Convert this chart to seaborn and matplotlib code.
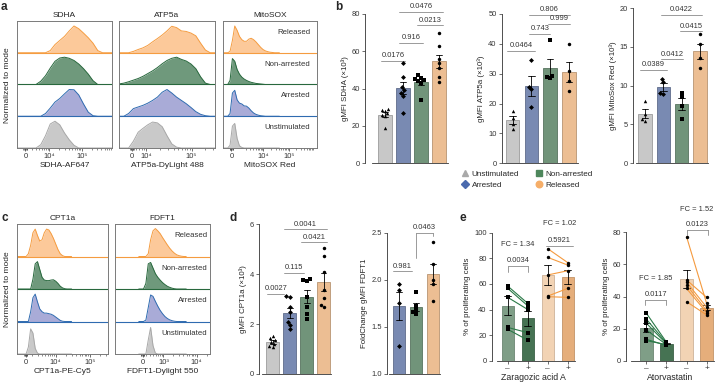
import numpy as np
import pandas as pd
import matplotlib
matplotlib.use('Agg')
import matplotlib.pyplot as plt
from matplotlib.lines import Line2D
from matplotlib import colors as mcolors
import seaborn as sns

# ---------------- data ----------------
groups = ['Unstimulated', 'Arrested', 'Non-arrested', 'Released']

# histograms (normalized to mode), x in axis fraction
grid21 = np.linspace(0, 1, 21)
sdha_hist = [
    [0, 0, 0, 0, 0, 0.12, 0.45, 0.88, 0.98, 0.85, 0.55, 0.3, 0.1, 0, 0, 0, 0, 0, 0, 0, 0],
    [0, 0, 0, 0, 0, 0, 0.1, 0.3, 0.52, 0.65, 0.82, 0.98, 0.97, 0.78, 0.45, 0.15, 0.02, 0, 0, 0, 0],
    [0, 0, 0, 0, 0, 0.12, 0.32, 0.6, 0.85, 0.97, 1.0, 0.96, 0.88, 0.75, 0.58, 0.38, 0.14, 0, 0, 0, 0],
    [0, 0, 0, 0, 0, 0, 0, 0.08, 0.3, 0.45, 0.6, 0.8, 0.98, 0.88, 0.72, 0.55, 0.35, 0.08, 0, 0, 0],
]
atp_hist = [
    [0, 0, 0, 0.25, 0.58, 0.72, 0.85, 0.95, 0.92, 0.78, 0.45, 0.15, 0.03, 0, 0, 0, 0, 0, 0, 0, 0],
    [0, 0, 0.1, 0.28, 0.34, 0.4, 0.48, 0.58, 0.7, 0.88, 0.98, 0.85, 0.7, 0.58, 0.46, 0.32, 0.17, 0.07, 0.02, 0, 0],
    [0.02, 0.05, 0.1, 0.16, 0.22, 0.3, 0.4, 0.5, 0.62, 0.76, 0.88, 0.96, 1.0, 0.92, 0.86, 0.75, 0.58, 0.28, 0.05, 0, 0],
    [0, 0, 0, 0.05, 0.12, 0.18, 0.27, 0.4, 0.52, 0.65, 0.8, 0.97, 0.92, 0.8, 0.78, 0.72, 0.62, 0.35, 0.1, 0, 0],
]
grid25 = np.linspace(0, 0.6, 25)
mito_hist = [
    [0, 0, 0, 0.1, 0.8, 0.9, 0.35, 0.08, 0.02, 0, 0, 0, 0, 0, 0, 0, 0, 0, 0, 0, 0, 0, 0, 0, 0],
    [0, 0, 0, 0.1, 0.85, 0.95, 0.6, 0.48, 0.45, 0.38, 0.37, 0.3, 0.2, 0.12, 0.07, 0.04, 0.02, 0.01, 0, 0, 0, 0, 0, 0, 0],
    [0, 0, 0, 0.15, 0.95, 0.85, 0.55, 0.38, 0.27, 0.2, 0.15, 0.11, 0.08, 0.06, 0.04, 0.03, 0.02, 0.01, 0, 0, 0, 0, 0, 0, 0],
    [0, 0, 0, 0.05, 0.45, 0.98, 0.82, 0.6, 0.48, 0.42, 0.42, 0.5, 0.53, 0.48, 0.4, 0.3, 0.2, 0.12, 0.07, 0.04, 0.02, 0.01, 0, 0, 0],
]
cpt_hist = [
    [0, 0, 0, 0, 0, 0.25, 0.9, 0.75, 0.2, 0.03, 0, 0, 0, 0, 0, 0, 0, 0, 0, 0, 0, 0, 0, 0, 0],
    [0, 0, 0, 0, 0, 0, 0.35, 0.85, 0.98, 0.7, 0.45, 0.35, 0.3, 0.3, 0.28, 0.26, 0.22, 0.16, 0.1, 0.04, 0.01, 0, 0, 0, 0],
    [0, 0, 0, 0, 0, 0, 0, 0.35, 0.9, 0.98, 0.7, 0.42, 0.32, 0.3, 0.3, 0.32, 0.33, 0.28, 0.2, 0.1, 0.04, 0.01, 0, 0, 0],
    [0, 0, 0, 0, 0, 0.1, 0.4, 0.85, 0.98, 0.75, 0.55, 0.6, 0.85, 0.98, 0.95, 0.82, 0.65, 0.45, 0.25, 0.1, 0.03, 0, 0, 0, 0],
]
grid_fdf = np.linspace(0.25, 0.75, 21)
fdf_hist = [
    [0, 0, 0, 0, 0.5, 0.95, 0.3, 0.03, 0, 0, 0, 0, 0, 0, 0, 0, 0, 0, 0, 0, 0],
    [0, 0, 0, 0.05, 0.5, 0.95, 0.9, 0.72, 0.55, 0.4, 0.28, 0.18, 0.11, 0.06, 0.03, 0.01, 0, 0, 0, 0, 0],
    [0, 0, 0, 0.2, 0.9, 0.95, 0.75, 0.55, 0.42, 0.32, 0.23, 0.16, 0.1, 0.06, 0.03, 0.01, 0, 0, 0, 0, 0],
    [0, 0, 0, 0, 0.1, 0.6, 0.92, 1.0, 0.92, 0.82, 0.68, 0.55, 0.42, 0.3, 0.2, 0.12, 0.06, 0.03, 0.01, 0, 0],
]

# gMFI per sample
sdha_vals = [[29.0, 28.6, 28.0, 26.6, 26.0, 25.2, 18.6],
             [53.8, 46.0, 40.8, 39.2, 37.8, 36.2, 27.0],
             [47.0, 45.8, 45.0, 44.4, 43.8, 43.2, 33.8],
             [70.0, 63.0, 56.0, 53.5, 50.8, 46.0, 43.4]]
atp_vals = [[17.6, 15.2, 13.2, 11.4],
            [34.6, 25.6, 24.8, 18.7],
            [41.3, 29.3, 28.8, 28.4],
            [39.8, 31.0, 27.6, 24.3]]
mito_vals = [[8.0, 6.4, 5.7, 5.5],
             [10.9, 10.5, 9.1, 8.9],
             [9.1, 8.5, 7.4, 5.7],
             [16.6, 15.4, 13.5, 12.3]]
cpt_vals = [[1.52, 1.43, 1.35, 1.3, 1.2, 1.12, 1.07],
            [3.13, 3.07, 2.67, 2.5, 2.1, 1.97, 1.8],
            [3.8, 3.77, 3.74, 3.1, 2.7, 2.4, 2.2],
            [5.04, 4.73, 4.1, 3.37, 3.03, 2.77, 2.67]]
fdf_vals = [[1.955, 1.89, 1.75, 1.3],
            [1.87, 1.72, 1.68, 1.66, 1.64],
            [2.4, 2.17, 2.0, 1.955, 1.77]]

# proliferation, paired (- / +)
zar_green = ([58.3, 56.5, 49.5, 26.0, 24.5], [44.8, 42.9, 40.0, 21.9, 16.1])
zar_orange = ([87.5, 80.7, 67.0, 50.5, 50.0], [76.6, 74.7, 70.3, 56.5, 49.5])
ator_green = ([29.5, 25.8, 23.3, 19.1, 13.3, 12.5], [11.5, 11.0, 10.5, 10.0, 9.5, 10.0])
ator_orange = ([77.3, 50.3, 49.0, 47.2, 45.0, 36.8], [35.8, 39.5, 33.3, 31.2, 30.0, 28.5])

# ---------------- style ----------------
sns.set_style('ticks')
plt.rcParams['font.family'] = ['Liberation Sans', 'DejaVu Sans']
plt.rcParams['axes.linewidth'] = 0.6
plt.rcParams['axes.edgecolor'] = '#333333'
plt.rcParams['xtick.color'] = '#333333'
plt.rcParams['ytick.color'] = '#333333'

FS_TICK = 5.4
FS_LAB = 6.0
FS_P = 5.4

hist_fill = {'Unstimulated': '#c9c9c9', 'Arrested': '#a9abd7', 'Non-arrested': '#6f997c', 'Released': '#fcc99a'}
hist_edge = {'Unstimulated': '#a8a8a8', 'Arrested': '#2f6bb0', 'Non-arrested': '#28683d', 'Released': '#f59c40'}
bar_color = {'Unstimulated': '#c8c8c8', 'Arrested': '#7086bb', 'Non-arrested': '#6b9a77', 'Released': '#fbbd84'}
markers = {'Unstimulated': '^', 'Arrested': 'D', 'Non-arrested': 's', 'Released': 'o'}

W, H = 722, 383
fig = plt.figure(figsize=(W / 100, H / 100), dpi=100)


def add_ax(l, t, r, b):
    return fig.add_axes([l / W, 1 - b / H, (r - l) / W, (b - t) / H])


def darker(c, f=0.78):
    return tuple(v * f for v in mcolors.to_rgb(c))


def minor_ticks(zero, majors):
    d = majors[-1] - majors[-2]
    out = [zero + s for s in (-0.02, -0.012, -0.006, 0.006, 0.012, 0.02)]
    for p in [majors[0] - d] + list(majors):
        for k in range(2, 10):
            m = p + d * np.log10(k)
            if zero + 0.03 < m < 1:
                out.append(m)
    return out


def hist_panel(ax, x, curves, title, xlabel, ticks, ticklabels, row_labels=False, lab_x=0.95):
    for i, (g, ys) in enumerate(zip(groups, curves)):
        top = i + 0.86 * np.asarray(ys)
        ax.fill_between(x, i, top, color=hist_fill[g], lw=0)
        ax.plot(x, top, color=hist_edge[g], lw=0.7)
        if i > 0:
            ax.axhline(i, color=hist_edge[g], lw=0.8)
        if row_labels:
            ax.text(lab_x, i + 0.64, g, ha='right', va='center', fontsize=5.6, color='#333333',
                    transform=ax.get_yaxis_transform())
    ax.set_xlim(0, 1)
    ax.set_ylim(0, 4)
    ax.set_yticks([])
    ax.set_xticks(ticks, ticklabels)
    ax.set_xticks(minor_ticks(ticks[0], ticks[1:]), minor=True)
    ax.tick_params(axis='x', which='major', length=2.2, width=0.5, labelsize=FS_TICK, pad=1.5)
    ax.tick_params(axis='x', which='minor', length=1.3, width=0.4)
    for s in ax.spines.values():
        s.set_color('#7a7a7a')
        s.set_linewidth(0.7)
    ax.set_title(title, fontsize=FS_LAB, pad=3)
    ax.set_xlabel(xlabel, fontsize=FS_LAB, labelpad=1.5)


def sig(ax, x1, x2, y, text, legs=None):
    ax.plot([x1, x2], [y, y], color='#8a8a8a', lw=0.6, clip_on=False)
    if legs is not None:
        ax.plot([x1, x1], [legs[0], y], color='#8a8a8a', lw=0.6, clip_on=False)
        ax.plot([x2, x2], [legs[1], y], color='#8a8a8a', lw=0.6, clip_on=False)
    ax.annotate(text, ((x1 + x2) / 2, y), xytext=(0, 1.2), textcoords='offset points',
                ha='center', va='bottom', fontsize=FS_P, color='#333333', annotation_clip=False)


def style_axis(ax, ylim, yticks, xlim, ylabel, xstart):
    ax.set_xlim(*xlim)
    ax.set_ylim(*ylim)
    ax.set_yticks(yticks)
    sns.despine(ax=ax)
    ax.spines['bottom'].set_bounds(xstart, xlim[1])
    ax.tick_params(axis='y', length=2.2, width=0.5, labelsize=FS_TICK, pad=1.5)
    ax.set_ylabel(ylabel, fontsize=5.7, labelpad=2)
    ax.set_xlabel('')


def bar_panel(ax, grp, vals, ylim, yticks, xlim, width, ylabel, annots, xstart):
    df = pd.DataFrame({'group': np.repeat(grp, [len(v) for v in vals]), 'value': np.concatenate(vals)})
    sns.barplot(data=df, x='group', y='value', hue='group', order=grp, hue_order=grp,
                palette=[bar_color[g] for g in grp], errorbar='se', capsize=0.35,
                err_kws={'color': 'k', 'linewidth': 0.6}, width=width, linewidth=0.6,
                legend=False, ax=ax)
    for p in ax.patches:
        p.set_edgecolor(darker(p.get_facecolor()))
    for g in grp:
        sns.swarmplot(data=df[df.group == g], x='group', y='value', order=grp,
                      marker=markers[g], color='k', size=2.5, ax=ax)
    style_axis(ax, ylim, yticks, xlim, ylabel, xstart)
    ax.set_xticks([])
    for a in annots:
        sig(ax, *a)


def paired_panel(ax, green, orange, ylim, yticks, xlim, xlabel, annots):
    cats = ['g-', 'g+', 'o-', 'o+']
    vals = [green[0], green[1], orange[0], orange[1]]
    df = pd.DataFrame({'cond': np.repeat(cats, [len(v) for v in vals]), 'value': np.concatenate(vals)})
    pal = ['#7aa385', '#3f7a50', '#fcd3aa', '#f7ad69']
    sns.barplot(data=df, x='cond', y='value', hue='cond', order=cats, hue_order=cats, palette=pal,
                errorbar='se', capsize=0.35, err_kws={'color': 'k', 'linewidth': 0.6},
                width=0.62, linewidth=0.6, legend=False, ax=ax)
    for p in ax.patches:
        p.set_edgecolor(darker(p.get_facecolor(), 0.85))
    for (m, p), col, x0, mk in [(green, '#2b7a48', 0, 's'), (orange, '#f59a3e', 2, 'o')]:
        for a, b in zip(m, p):
            ax.plot([x0, x0 + 1], [a, b], color=col, lw=0.8, zorder=5)
        ax.scatter([x0] * len(m) + [x0 + 1] * len(p), list(m) + list(p), marker=mk, s=6,
                   color='k', lw=0, zorder=6)
    style_axis(ax, ylim, yticks, xlim, '% of proliferating cells', xlim[0] + 0.25)
    ax.set_xticks(range(4), ['\u2013', '+', '\u2013', '+'])
    ax.tick_params(axis='x', length=2, width=0.5, labelsize=6, pad=1)
    ax.set_xlabel(xlabel, fontsize=6.3, labelpad=1)
    for x1, x2, y, legs, p, fc, fc_y in annots:
        sig(ax, x1, x2, y, p, legs)
        ax.text((x1 + x2) / 2, fc_y, fc, ha='center', va='center', fontsize=FS_P, color='#333333',
                clip_on=False)


# ---------------- panel a ----------------
ax = add_ax(17, 21, 112, 148)
hist_panel(ax, grid21, sdha_hist, 'SDHA', 'SDHA-AF647', [0.088, 0.339, 0.682], ['0', '10\u2074', '10\u2075'])
ax = add_ax(119, 21, 215, 148)
hist_panel(ax, grid21, atp_hist, 'ATP5a', 'ATP5a-DyLight 488', [0.136, 0.286, 0.756], ['0', '10\u2074', '10\u2075'])
ax = add_ax(223, 21, 317, 148)
hist_panel(ax, grid25, mito_hist, 'MitoSOX', 'MitoSOX Red', [0.09, 0.43, 0.70], ['0', '10\u2074', '10\u2075'],
           row_labels=True, lab_x=0.93)
fig.text(8 / W, 1 - 85 / H, 'Normalized to mode', rotation=90, ha='center', va='center', fontsize=FS_LAB)

# ---------------- panel c ----------------
ax = add_ax(17, 224, 108, 354)
hist_panel(ax, grid25, cpt_hist, 'CPT1a', 'CPT1a-PE-Cy5', [0.095, 0.425, 0.80], ['0', '10\u2074', '10\u2075'])
ax = add_ax(115, 224, 210, 354)
hist_panel(ax, grid_fdf, fdf_hist, 'FDFT1', 'FDFT1-Dylight 550', [0.29, 0.51, 0.86], ['0', '10\u00b3', '10\u2074'],
           row_labels=True, lab_x=0.97)
fig.text(8 / W, 1 - 289 / H, 'Normalized to mode', rotation=90, ha='center', va='center', fontsize=FS_LAB)

# ---------------- panel b ----------------
ax = add_ax(365, 14, 448, 163)
bar_panel(ax, groups, sdha_vals, (0, 80), [0, 20, 40, 60, 80], (-1.11, 3.5), 0.78,
          'gMFI SDHA (\u00d710\u00b3)',
          [(-0.2, 1.1, 54.7, '0.0176'), (0.8, 2.1, 64.6, '0.916'), (1.8, 3.2, 74.0, '0.0213'),
           (0.8, 3.2, 81.3, '0.0476')], -0.72)
ax = add_ax(501.7, 14, 578, 163.3)
bar_panel(ax, groups, atp_vals, (0, 50), [0, 10, 20, 30, 40, 50], (-0.574, 3.48), 0.72,
          'gMFI ATP5a (\u00d710\u00b3)',
          [(-0.3, 1.2, 37.7, '0.0464'), (0.9, 2.0, 43.4, '0.743'), (1.9, 3.05, 46.8, '0.999'),
           (0.9, 3.05, 49.8, '0.806')], -0.5)
ax = add_ax(633, 8, 708, 163.3)
bar_panel(ax, groups, mito_vals, (0, 20), [0, 5, 10, 15, 20], (-0.656, 3.44), 0.74,
          'gMFI MitoSox Red (\u00d710\u00b3)',
          [(-0.3, 1.2, 12.0, '0.0389'), (0.9, 2.1, 13.4, '0.0412'), (1.9, 3.1, 17.0, '0.0415'),
           (0.9, 3.1, 19.1, '0.0422')], -0.5)

handles = [Line2D([], [], ls='', marker='^', color='#a9a9a9', markersize=4.5),
           Line2D([], [], ls='', marker='D', color='#4a6aae', markersize=3.6),
           Line2D([], [], ls='', marker='s', color='#4e875c', markersize=4.5),
           Line2D([], [], ls='', marker='o', color='#f6ae68', markersize=4.7)]
fig.legend(handles, groups, ncol=2, frameon=False, fontsize=5.9, loc='upper left',
           bbox_to_anchor=(461 / W, 1 - 170 / H), handletextpad=0.3, columnspacing=1.9,
           labelspacing=0.45, borderaxespad=0, borderpad=0, handlelength=1.0)

# ---------------- panel d ----------------
ax = add_ax(259.3, 224.3, 331, 374)
bar_panel(ax, groups, cpt_vals, (0, 6), [0, 2, 4, 6], (-0.78, 3.44), 0.76,
          'gMFI CPT1a (\u00d710\u00b3)',
          [(-0.3, 0.7, 3.2, '0.0027'), (0.7, 1.85, 4.06, '0.115'), (1.7, 3.2, 5.28, '0.0421'),
           (0.7, 3.2, 5.8, '0.0041')], -0.6)
ax = add_ax(386.7, 232.7, 440, 374)
bar_panel(ax, groups[1:], fdf_vals, (1.0, 2.5), [1.0, 1.5, 2.0, 2.5], (-0.71, 2.41), 0.74,
          'FoldChange gMFI FDFT1', [(-0.35, 0.8, 2.09, '0.981')], -0.55)
sig(ax, 1.0, 2.0, 2.5, '0.0463', legs=(2.23, 2.46))
ax.set_yticklabels(['1.0', '1.5', '2.0', '2.5'])

# ---------------- panel e ----------------
ax = add_ax(491.7, 232.7, 575, 360.7)
paired_panel(ax, zar_green, zar_orange, (0, 100), [0, 20, 40, 60, 80, 100], (-0.8, 3.36), 'Zaragozic acid A',
             [(0, 1, 74.0, (69.5, 69.5), '0.0034', 'FC = 1.34', 90.4),
              (1.9, 3.25, 89.6, None, '0.5921', 'FC = 1.02', 107.3)])
ax = add_ax(626, 232.3, 714, 360.7)
paired_panel(ax, ator_green, ator_orange, (0, 80), [0, 20, 40, 60, 80], (-1.02, 3.37), 'Atorvastatin',
             [(-0.05, 1.0, 37.8, (34.7, 34.7), '0.0117', 'FC = 1.85', 51.4),
              (2.0, 3.05, 81.5, (78.4, 78.4), '0.0123', 'FC = 1.52', 94.0)])

# ---------------- panel letters ----------------
for lx, ly, s in [(1, 1, 'a'), (335, 1, 'b'), (1, 212, 'c'), (230, 212, 'd'), (460, 212, 'e')]:
    fig.text(lx / W, 1 - ly / H, s, fontsize=8.5, fontweight='bold', va='top', ha='left')

fig.savefig('out.png', dpi=100)
